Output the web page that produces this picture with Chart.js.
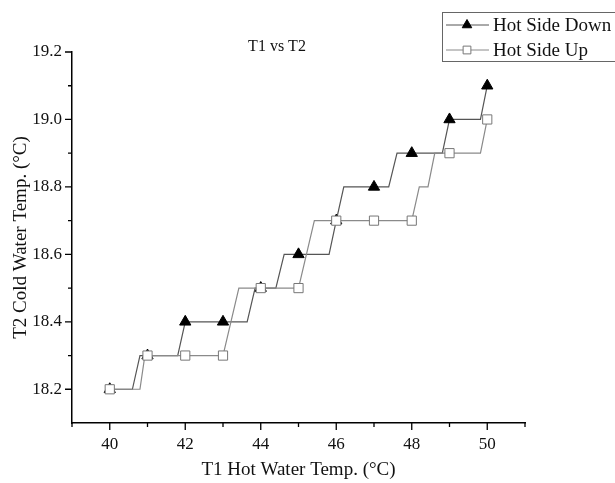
<!DOCTYPE html>
<html>
<head>
<meta charset="utf-8">
<script src="https://cdn.jsdelivr.net/npm/chart.js@4/dist/chart.umd.min.js"></script>
<style>
  html, body { margin: 0; padding: 0; background: #fff; }
  #wrap { width: 615px; height: 483px; }
</style>
</head>
<body>
<div id="wrap"><canvas id="myChart" width="615" height="483"></canvas></div>
<script>
// ticks
const xLabels = [40, 42, 44, 46, 48, 50];
const xMinor = [39, 41, 43, 45, 47, 49, 51];
const yLabels = [18.2, 18.4, 18.6, 18.8, 19.0, 19.2];
const yMinor = [18.3, 18.5, 18.7, 18.9, 19.1];

// markers (one per degree of T1)
const markerT1 = [40, 41, 42, 43, 44, 45, 46, 47, 48, 49, 50];
const downT2 = [18.2, 18.3, 18.4, 18.4, 18.5, 18.6, 18.7, 18.8, 18.9, 19.0, 19.1];
const upT2 = [18.2, 18.3, 18.3, 18.3, 18.5, 18.5, 18.7, 18.7, 18.7, 18.9, 19.0];

// full recorded traces (the lines between markers)
const downPathT1 = [40, 40.6, 40.8, 41, 41.8, 42, 43, 43.64, 43.85, 44, 44.4, 44.62, 45, 45.81, 46, 46.2, 47, 47.39, 47.61, 48, 48.81, 49, 49.82, 50];
const downPathT2 = [18.2, 18.2, 18.3, 18.3, 18.3, 18.4, 18.4, 18.4, 18.5, 18.5, 18.5, 18.6, 18.6, 18.6, 18.7, 18.8, 18.8, 18.8, 18.9, 18.9, 18.9, 19.0, 19.0, 19.1];
const upPathT1 = [40, 40.8, 40.93, 41, 42, 43, 43.42, 44, 45, 45.42, 46, 47, 48, 48.2, 48.43, 48.61, 49, 49.82, 50];
const upPathT2 = [18.2, 18.2, 18.3, 18.3, 18.3, 18.3, 18.5, 18.5, 18.5, 18.7, 18.7, 18.7, 18.7, 18.8, 18.8, 18.9, 18.9, 18.9, 19.0];

const chartTitle = 'T1 vs T2';
const FONT = '"Liberation Serif", "Times New Roman", serif';

const toPoints = (xs, ys) => xs.map((x, i) => ({x: x, y: ys[i]}));

const series = [
    {label: 'Hot Side Down', line: '#555', style: 'triangle', fill: '#000', stroke: '#000'},
    {label: 'Hot Side Up', line: '#8a8a8a', style: 'rect', fill: '#fff', stroke: '#777'},
];

// outward ticks, title and the boxed legend
const extras = {
    id: 'extras',
    afterDraw(chart) {
        const ctx = chart.ctx;
        const sx = chart.scales.x, sy = chart.scales.y, a = chart.chartArea;
        ctx.save();
        ctx.strokeStyle = '#000';
        ctx.lineWidth = 1.3;
        ctx.beginPath();
        xLabels.forEach(v => { const p = sx.getPixelForValue(v); ctx.moveTo(p, a.bottom); ctx.lineTo(p, a.bottom + 7); });
        xMinor.forEach(v => { const p = sx.getPixelForValue(v); ctx.moveTo(p, a.bottom); ctx.lineTo(p, a.bottom + 4); });
        yLabels.forEach(v => { const p = sy.getPixelForValue(v); ctx.moveTo(a.left, p); ctx.lineTo(a.left - 7, p); });
        yMinor.forEach(v => { const p = sy.getPixelForValue(v); ctx.moveTo(a.left, p); ctx.lineTo(a.left - 4, p); });
        ctx.stroke();

        ctx.fillStyle = '#111';
        ctx.font = '16px ' + FONT;
        ctx.textAlign = 'center';
        ctx.textBaseline = 'middle';
        ctx.fillText(chartTitle, 277, 47);

        // legend
        ctx.strokeStyle = '#666';
        ctx.lineWidth = 1;
        ctx.strokeRect(442.5, 12.5, 220, 49);
        ctx.font = '19px ' + FONT;
        ctx.textAlign = 'left';
        series.forEach((s, i) => {
            const y = 25 + i * 25;
            ctx.strokeStyle = s.line;
            ctx.beginPath();
            ctx.moveTo(446, y);
            ctx.lineTo(489, y);
            ctx.stroke();
            ctx.fillStyle = s.fill;
            ctx.strokeStyle = s.stroke;
            Chart.helpers.drawPoint(ctx, {pointStyle: s.style, radius: 5.5, rotation: 0, borderWidth: 1}, 467, y);
            ctx.fillStyle = '#111';
            ctx.fillText(s.label, 493, y + 1);
        });
        ctx.restore();
    }
};

const config = {
    type: 'scatter',
    data: {
        datasets: [{
            label: 'Hot Side Up',
            data: toPoints(markerT1, upT2),
            pointStyle: 'rect',
            pointRadius: 6.5,
            backgroundColor: '#fff',
            borderColor: '#777',
            borderWidth: 1,
            order: 0
        }, {
            label: 'Hot Side Down',
            data: toPoints(markerT1, downT2),
            pointStyle: 'triangle',
            pointRadius: 6.5,
            backgroundColor: '#000',
            borderColor: '#000',
            borderWidth: 1,
            order: 1
        }, {
            label: 'Hot Side Up line',
            data: toPoints(upPathT1, upPathT2),
            showLine: true,
            pointRadius: 0,
            borderColor: '#8a8a8a',
            borderWidth: 1.2,
            order: 2
        }, {
            label: 'Hot Side Down line',
            data: toPoints(downPathT1, downPathT2),
            showLine: true,
            pointRadius: 0,
            borderColor: '#555',
            borderWidth: 1.2,
            order: 3
        }]
    },
    options: {
        responsive: false,
        animation: false,
        layout: {padding: {left: 0, top: 52, right: 90, bottom: 0}},
        plugins: {
            legend: {display: false},
            tooltip: {enabled: false},
            title: {display: false}
        },
        scales: {
            x: {
                type: 'linear',
                min: 39,
                max: 51,
                afterBuildTicks: (axis) => { axis.ticks = xLabels.map(v => ({value: v})); },
                afterFit: (scale) => { scale.height = 60; },
                grid: {display: false, drawTicks: false},
                border: {display: true, color: '#000', width: 1.5},
                ticks: {
                    padding: 11,
                    color: '#111',
                    font: {family: FONT, size: 17},
                    callback: (v) => String(v)
                },
                title: {
                    display: true,
                    text: 'T1 Hot Water Temp. (°C)',
                    color: '#111',
                    font: {family: FONT, size: 19},
                    padding: {top: 0, bottom: 2}
                }
            },
            y: {
                min: 18.1,
                max: 19.2,
                afterBuildTicks: (axis) => { axis.ticks = yLabels.map(v => ({value: v})); },
                afterFit: (scale) => { scale.width = 72; },
                grid: {display: false, drawTicks: false},
                border: {display: true, color: '#000', width: 1.5},
                ticks: {
                    padding: 10,
                    color: '#111',
                    font: {family: FONT, size: 17},
                    callback: (v) => Number(v).toFixed(1)
                },
                title: {
                    display: true,
                    text: 'T2 Cold Water Temp. (°C)',
                    color: '#111',
                    font: {family: FONT, size: 19},
                    padding: {top: 10, bottom: 0}
                }
            }
        }
    },
    plugins: [extras]
};

const myChart = new Chart(document.getElementById('myChart'), config);
</script>
</body>
</html>
